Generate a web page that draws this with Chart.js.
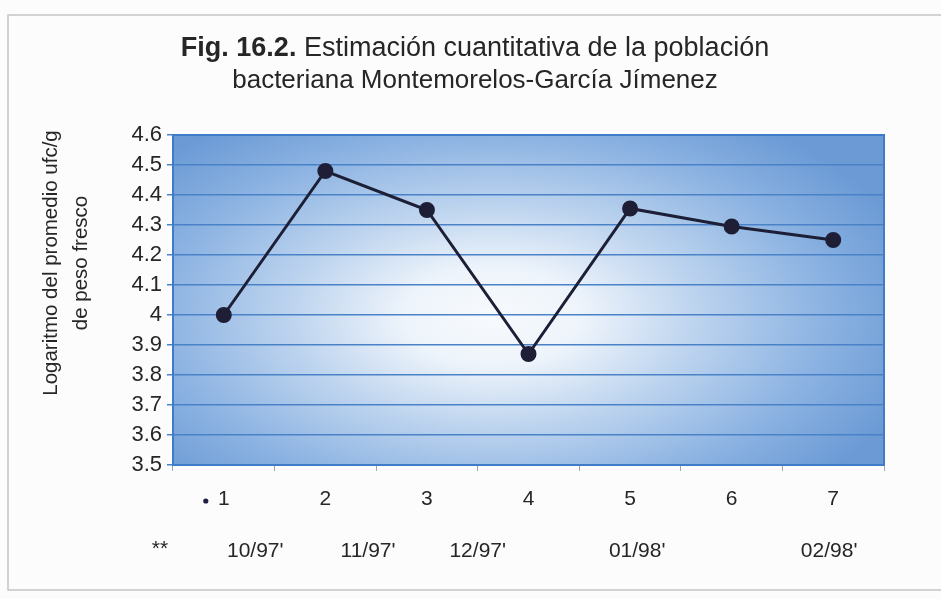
<!DOCTYPE html>
<html>
<head>
<meta charset="utf-8">
<script src="https://cdn.jsdelivr.net/npm/chart.js@4.4.1/dist/chart.umd.min.js"></script>
<style>
  html, body { margin: 0; padding: 0; background: #fcfcfc; }
  #wrap { position: relative; width: 941px; height: 599px; }
</style>
</head>
<body>
<div id="wrap"><canvas id="c"></canvas></div>
<script>
// ---- data ----
const categories = ['1', '2', '3', '4', '5', '6', '7'];
const logValues = [4.00, 4.48, 4.35, 3.87, 4.355, 4.295, 4.25];
const dateLabels = ["10/97'", "11/97'", "12/97'", "01/98'", "02/98'"];
const datePositions = [0.31, 1.42, 2.5, 4.07, 5.96]; // category-scale positions of the date row
const yMin = 3.5, yMax = 4.6, yStep = 0.1;
const titleBold = 'Fig. 16.2.';
const titleRest = ' Estimación cuantitativa de la población';
const titleLine2 = 'bacteriana Montemorelos-García Jímenez';
const yTitle1 = 'Logaritmo del promedio ufc/g';
const yTitle2 = 'de peso fresco';

const FONT = "'Liberation Sans', Arial, sans-serif";
const TXT = '#262626';

const decor = {
  id: 'decor',
  beforeDraw(chart) {
    const ctx = chart.ctx, a = chart.chartArea;
    ctx.save();
    // page frame
    ctx.strokeStyle = '#c4c4c4';
    ctx.lineWidth = 1.5;
    ctx.strokeRect(8, 15, 960, 575);
    // plot background: elliptical radial gradient
    const cx = a.left + (a.right - a.left) * 0.45;
    const cy = a.top + (a.bottom - a.top) * 0.55;
    const rx = 440, ry = 240;
    ctx.beginPath();
    ctx.rect(a.left, a.top, a.right - a.left, a.bottom - a.top);
    ctx.clip();
    ctx.translate(cx, cy);
    ctx.scale(1, ry / rx);
    const g = ctx.createRadialGradient(0, 0, 0, 0, 0, rx);
    g.addColorStop(0, '#f7fafd');
    g.addColorStop(0.2, '#eef4fb');
    g.addColorStop(0.45, '#bfd5ef');
    g.addColorStop(0.75, '#8cb3e2');
    g.addColorStop(1, '#6b9ad5');
    ctx.fillStyle = g;
    ctx.fillRect(-rx * 2, -rx * 2, rx * 4, rx * 4);
    ctx.restore();
  },
  afterDraw(chart) {
    const ctx = chart.ctx, a = chart.chartArea, xs = chart.scales.x;
    ctx.save();
    // plot border
    ctx.strokeStyle = '#3f7cc7';
    ctx.lineWidth = 2;
    ctx.strokeRect(a.left, a.top, a.right - a.left, a.bottom - a.top);
    // title
    ctx.fillStyle = TXT;
    ctx.textBaseline = 'alphabetic';
    ctx.font = 'bold 27px ' + FONT;
    const wb = ctx.measureText(titleBold).width;
    ctx.font = '27px ' + FONT;
    const wr = ctx.measureText(titleRest).width;
    const natural = wb + wr;
    const target = 600;
    const k = Math.min(1, target / natural);
    const tx = 475 - (natural * k) / 2;
    ctx.textAlign = 'left';
    ctx.font = 'bold 27px ' + FONT;
    ctx.fillText(titleBold, tx, 56, wb * k);
    ctx.font = '27px ' + FONT;
    ctx.fillText(titleRest, tx + wb * k, 56, wr * k);
    ctx.textAlign = 'center';
    ctx.font = '26px ' + FONT;
    ctx.fillText(titleLine2, 475, 88, 488);
    // y title
    ctx.font = '20.5px ' + FONT;
    ctx.save();
    ctx.translate(51, 263);
    ctx.rotate(-Math.PI / 2);
    ctx.textBaseline = 'middle';
    ctx.fillText(yTitle1, 0, 0);
    ctx.fillText(yTitle2, 0, 30);
    ctx.restore();
    // bullet before the first category label
    ctx.fillStyle = '#1f1f45';
    ctx.beginPath();
    ctx.arc(xs.getPixelForValue(0) - 18, 501, 2.6, 0, Math.PI * 2);
    ctx.fill();
    // date row
    ctx.fillStyle = TXT;
    ctx.font = '21px ' + FONT;
    ctx.textAlign = 'center';
    ctx.textBaseline = 'middle';
    ctx.fillText('**', 160, 549);
    dateLabels.forEach((t, i) => {
      ctx.fillText(t, xs.getPixelForValue(datePositions[i]), 551);
    });
    ctx.restore();
  }
};

new Chart(document.getElementById('c'), {
  type: 'line',
  data: {
    labels: categories,
    datasets: [{
      data: logValues,
      borderColor: '#1c1f36',
      borderWidth: 3,
      pointRadius: 6.5,
      pointBackgroundColor: '#1e1e36',
      pointBorderColor: '#1e1e36',
      tension: 0
    }]
  },
  options: {
    responsive: true,
    maintainAspectRatio: false,
    animation: false,
    layout: { padding: { left: 0, right: 57, top: 135, bottom: 0 } },
    plugins: { legend: { display: false }, tooltip: { enabled: false }, title: { display: false } },
    scales: {
      x: {
        offset: true,
        grid: { offset: true, drawOnChartArea: false, color: '#9aa6b4', tickLength: 6, lineWidth: 1 },
        border: { display: false },
        ticks: { color: TXT, font: { family: FONT, size: 21 }, padding: 16, maxRotation: 0 },
        afterFit(s) { s.height = 134; }
      },
      y: {
        min: yMin, max: yMax,
        grid: { color: '#4a82c7', lineWidth: 1.5, tickLength: 6 },
        border: { display: false },
        ticks: {
          stepSize: yStep, color: TXT, font: { family: FONT, size: 22 }, padding: 5,
          callback: (v) => String(Number(v.toFixed(1)))
        },
        afterFit(s) { s.width = 173; }
      }
    }
  },
  plugins: [decor]
});
</script>
</body>
</html>
